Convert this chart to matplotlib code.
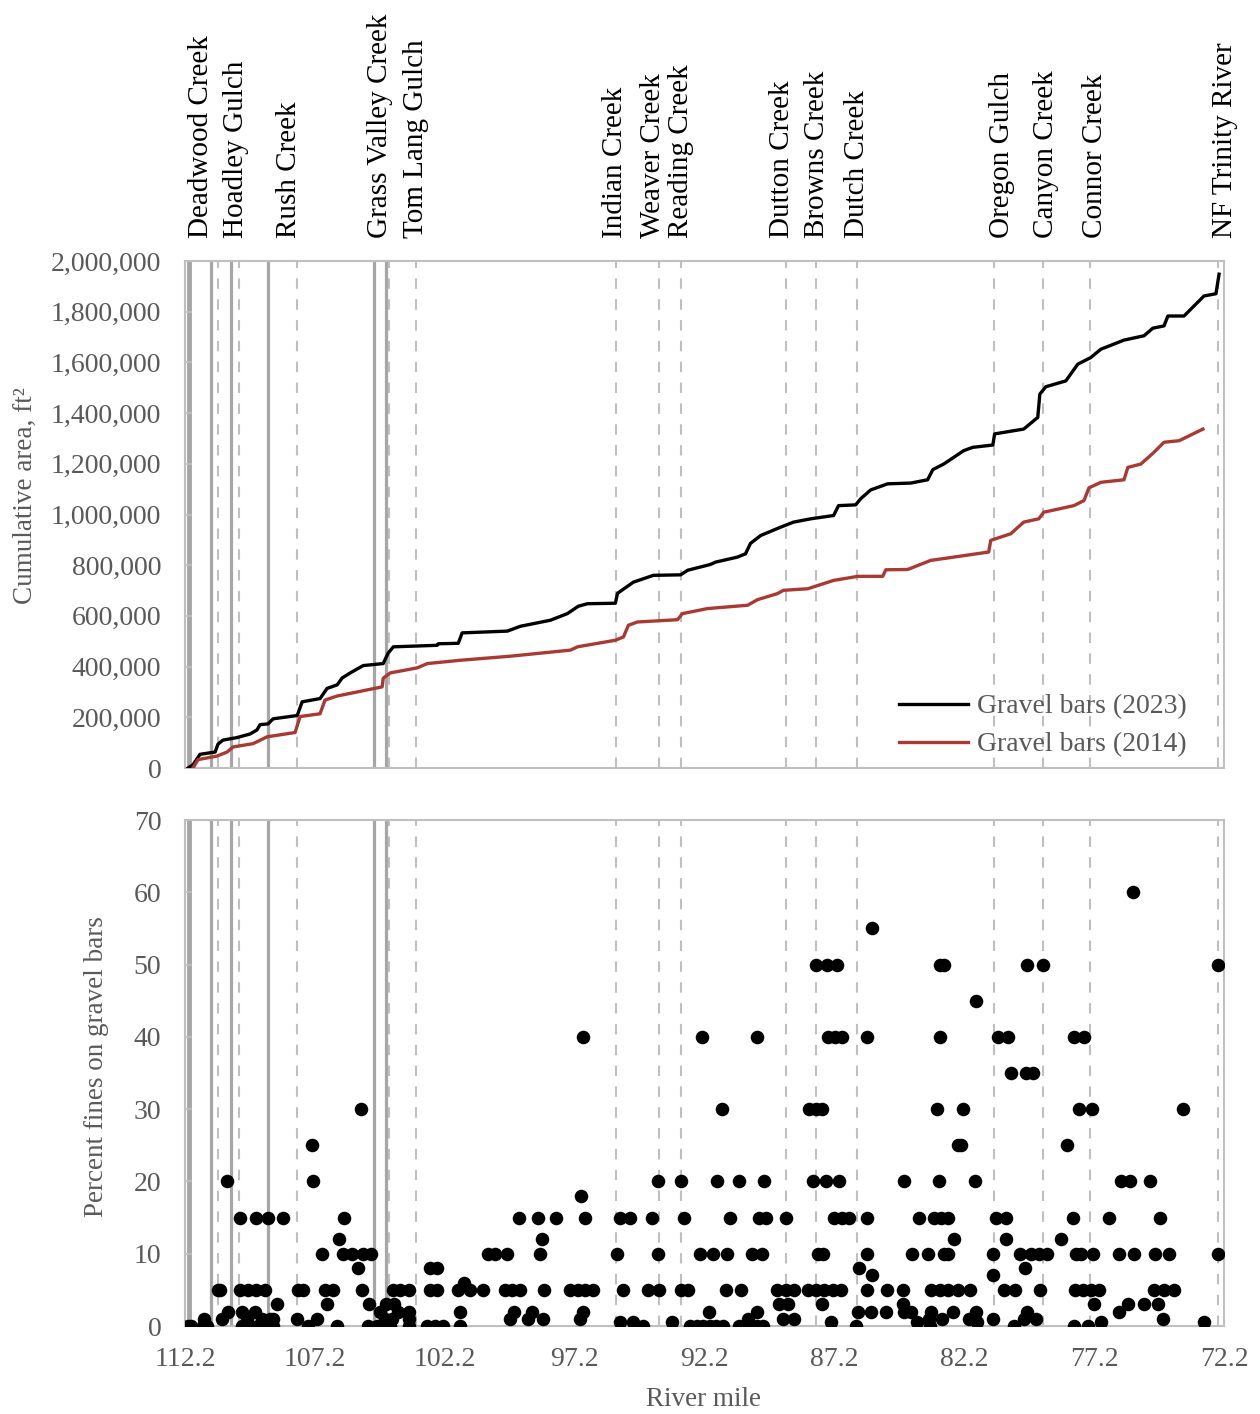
import matplotlib
matplotlib.use("Agg")
import matplotlib.pyplot as plt
import matplotlib.transforms as mtransforms

plt.rcParams['font.family'] = ['Liberation Serif', 'DejaVu Serif']

# ---------------- data ----------------
# tributaries (river mile of confluence) and label positions
trib_names = ["Deadwood Creek", "Hoadley Gulch", "Rush Creek", "Grass Valley Creek",
              "Tom Lang Gulch", "Indian Creek", "Weaver Creek", "Reading Creek",
              "Dutton Creek", "Browns Creek", "Dutch Creek", "Oregon Gulch",
              "Canyon Creek", "Connor Creek", "NF Trinity River"]
trib_miles = [110.94, 110.12, 107.88, 104.35, 103.31, 95.60, 93.97, 93.09,
              89.08, 87.90, 86.34, 81.05, 79.16, 77.35, 72.44]
trib_label_miles = [111.58, 110.23, 108.19, 104.69, 103.30, 95.63, 94.20, 93.09,
                    89.23, 87.88, 86.34, 80.76, 79.06, 77.17, 72.16]
# solid reference lines (river miles)
solid_miles = [112.03, 111.20, 110.43, 109.00, 104.92, 104.45]

# cumulative gravel bar area, 2023
area23_mile = [112.08, 111.89, 111.62, 111.04, 110.93, 110.74, 110.20, 109.70, 109.43,
               109.31, 109.00, 108.81, 107.88, 107.69, 107.00, 106.73, 106.34, 106.15,
               105.84, 105.34, 104.57, 104.38, 104.18, 102.49, 102.45, 101.68, 101.53,
               99.79, 99.29, 98.13, 97.48, 97.06, 96.71, 95.63, 95.55, 94.94, 94.17,
               93.12, 92.85, 91.97, 91.78, 90.93, 90.62, 90.43, 90.04, 89.27, 88.77,
               88.11, 87.23, 87.04, 86.38, 86.19, 85.80, 85.15, 84.26, 83.61, 83.41,
               82.99, 82.22, 81.87, 81.10, 81.03, 79.91, 79.37, 79.29, 79.06, 78.29,
               77.83, 77.33, 76.94, 76.05, 75.28, 74.94, 74.51, 74.36, 73.74, 72.97,
               72.51, 72.39]
area23 = [0, 13000, 54000, 63000, 94000, 110000, 120000, 134000, 150000,
          171000, 174000, 194000, 207000, 261000, 274000, 314000, 328000, 355000,
          375000, 404000, 412000, 453000, 478000, 484000, 490000, 492000, 533000,
          540000, 559000, 583000, 609000, 638000, 648000, 650000, 689000, 733000, 760000,
          762000, 780000, 803000, 812000, 832000, 845000, 886000, 917000, 950000, 970000,
          983000, 996000, 1035000, 1038000, 1062000, 1097000, 1121000, 1124000, 1137000, 1177000,
          1199000, 1252000, 1265000, 1274000, 1318000, 1337000, 1383000, 1475000, 1504000, 1527000,
          1593000, 1619000, 1652000, 1688000, 1705000, 1735000, 1744000, 1783000, 1783000, 1862000,
          1871000, 1948000]

# cumulative gravel bar area, 2014
area14_mile = [111.89, 111.70, 110.97, 110.58, 110.35, 109.58, 109.04, 107.96, 107.77,
               107.00, 106.81, 106.34, 105.19, 104.61, 104.57, 104.30, 103.26, 102.87,
               101.60, 99.68, 97.36, 97.09, 95.63, 95.32, 95.13, 94.78, 93.24, 93.05,
               92.08, 90.54, 90.16, 89.39, 89.16, 88.23, 87.23, 86.30, 85.34, 85.22,
               84.38, 83.49, 82.60, 81.26, 81.18, 80.41, 79.91, 79.33, 79.14, 77.98,
               77.59, 77.40, 76.94, 76.05, 75.90, 75.40, 74.90, 74.51, 73.93, 73.01]
area14 = [0, 33000, 47000, 63000, 83000, 96000, 123000, 140000, 203000,
          214000, 268000, 284000, 308000, 320000, 354000, 375000, 395000, 412000,
          425000, 441000, 465000, 478000, 504000, 517000, 563000, 576000, 585000, 609000,
          629000, 642000, 664000, 688000, 701000, 707000, 740000, 756000, 756000, 782000,
          783000, 819000, 832000, 852000, 898000, 924000, 970000, 983000, 1009000, 1035000,
          1055000, 1105000, 1127000, 1137000, 1186000, 1199000, 1245000, 1285000, 1291000, 1337000]

# percent fines on gravel bars
fines_mile = [
    112.07, 111.95, 111.51, 111.35, 111.47, 110.93, 110.85, 110.79, 110.53, 110.59,
    110.08, 110.08, 109.77, 109.46, 109.12, 110.02, 109.50, 110.00, 109.70, 109.39,
    109.08, 109.81, 109.23, 108.81, 109.46, 109.01, 108.41, 108.92, 108.80, 108.67,
    107.90, 107.85, 107.65, 107.45, 107.32, 107.28, 107.12, 106.93, 106.80, 106.50,
    106.74, 106.35, 106.29, 106.07, 106.11, 105.76, 105.54, 105.37, 105.42, 105.34,
    105.03, 105.11, 105.14, 104.81, 104.69, 104.45, 104.15, 104.50, 104.30, 104.61,
    104.00, 104.22, 104.18, 103.91, 103.56, 103.59, 103.59, 103.59, 102.76, 102.49,
    102.87, 102.57, 102.26, 102.76, 102.49, 101.68, 101.22, 101.45, 101.60, 101.60,
    100.74, 100.52, 100.25, 99.80, 99.87, 99.60, 99.29, 99.36, 99.68, 99.52,
    98.98, 98.83, 98.41, 98.60, 97.91, 96.79, 98.47, 98.52, 98.37, 97.36,
    97.06, 96.79, 96.48, 96.86, 96.98, 96.86, 96.94,
    95.57, 95.44, 95.05, 95.35, 95.44, 94.94, 94.55, 94.22, 94.36, 93.97,
    93.98, 94.00, 93.44, 93.12, 92.85, 93.09, 93.00, 92.74, 92.47, 92.24,
    91.97, 91.74, 91.47, 90.89, 90.62, 90.16, 89.93, 90.51, 90.17, 92.04,
    92.38, 91.86, 91.33, 92.29, 91.52, 91.72, 91.36, 90.81, 91.20, 90.88,
    90.39, 89.98, 90.17, 90.12, 89.85, 89.92, 89.39, 89.08, 88.77, 89.35,
    88.97, 89.19, 88.77, 89.05, 88.23, 87.92, 87.61, 87.27, 86.96, 88.19,
    87.92, 87.69, 88.01, 87.53, 87.03, 87.83, 87.64, 87.67, 87.92, 87.47,
    87.11, 87.43, 87.16, 86.92, 87.34, 87.23, 86.92, 86.65, 85.96, 86.38,
    86.30, 85.80, 85.22, 86.25, 85.93, 85.93, 85.17, 85.74, 85.93, 85.74,
    84.56, 84.56, 84.52, 84.26, 84.52, 84.23, 84.00, 83.94, 83.59, 83.52,
    83.56, 83.49, 83.49, 83.14, 82.81, 82.45, 83.38, 83.11, 82.84, 83.17,
    83.04, 82.99, 82.84, 83.14, 82.99, 83.24, 83.14, 82.62, 82.59, 82.45,
    82.33, 82.23, 82.01, 81.98, 81.69, 81.76, 81.79, 81.75, 81.09, 81.09,
    81.09, 80.99, 80.60, 80.60, 80.91, 80.52, 80.41, 80.68, 80.25, 80.28,
    80.06, 79.87, 79.90, 79.77, 79.42, 79.64, 79.33, 79.02, 79.83, 79.56,
    79.80, 79.16, 79.29, 78.48, 78.00, 77.98, 77.44, 77.94, 77.63, 77.33,
    77.02, 77.90, 77.71, 77.26, 77.20, 78.25, 77.98, 77.59, 77.80, 77.30,
    76.94, 76.62, 76.26, 75.91, 76.23, 76.17, 75.82, 75.66, 75.72, 75.28,
    74.74, 75.04, 74.86, 74.33, 74.90, 74.51, 74.13, 74.68, 74.53, 73.79,
    72.96, 72.44, 72.44]
fines_pct = [
    0, 0, 0, 0, 1, 5, 5, 1, 2, 20,
    15, 5, 5, 5, 5, 2, 2, 0, 0, 0,
    0, 1, 1, 1, 15, 15, 15, 1, 0, 3,
    1, 5, 5, 0, 25, 20, 1, 10, 5, 5,
    3, 0, 12, 15, 10, 10, 8, 5, 30, 10,
    10, 3, 0, 0, 2, 3, 3, 1, 0, 0,
    2, 1, 5, 5, 5, 0, 1, 2, 8, 8,
    0, 0, 0, 5, 5, 5, 5, 6, 2, 0,
    5, 10, 10, 10, 5, 5, 5, 15, 1, 2,
    1, 2, 1, 15, 15, 15, 12, 10, 5, 5,
    5, 5, 5, 2, 1, 40, 18,
    10, 15, 15, 5, 0.5, 0.5, 0, 15, 5, 5,
    10, 20, 0.5, 5, 5, 20, 15, 0, 0, 0,
    0, 0, 0, 0, 0, 0, 0, 1, 2, 2,
    10, 10, 10, 40, 30, 20, 5, 5, 15, 20,
    10, 10, 40, 15, 15, 20, 5, 5, 5, 3,
    3, 1, 1, 15, 5, 5, 5, 5, 5, 30,
    30, 30, 20, 20, 20, 10, 10, 3, 50, 50,
    50, 40, 40, 40, 0.5, 15, 15, 15, 15, 0,
    2, 2, 2, 8, 10, 5, 5, 7, 40, 55,
    5, 3, 2, 2, 20, 10, 0.5, 15, 10, 0,
    1, 2, 5, 5, 5, 5, 15, 15, 15, 20,
    1, 10, 10, 50, 50, 30, 40, 2, 12, 25,
    25, 30, 1, 5, 0.5, 2, 20, 45, 10, 7,
    1, 15, 15, 12, 40, 40, 35, 5, 5, 0,
    10, 8, 1, 2, 1, 10, 10, 10, 35, 35,
    50, 50, 5, 12, 15, 0, 0, 5, 5, 5,
    5, 10, 10, 10, 3, 25, 40, 40, 30, 30,
    0.5, 15, 2, 3, 10, 20, 20, 10, 60, 3,
    3, 20, 10, 10, 5, 5, 5, 15, 1, 30,
    0.5, 10, 50]

x_ticks = [112.2, 107.2, 102.2, 97.2, 92.2, 87.2, 82.2, 77.2, 72.2]
x_ticklabels = ["112.2", "107.2", "102.2", "97.2", "92.2", "87.2", "82.2", "77.2", "72.2"]
area_ticks = list(range(0, 2000001, 200000))
fines_ticks = list(range(0, 71, 10))

# ---------------- figure ----------------
W, H = 1260, 1414
fig = plt.figure(figsize=(W / 100, H / 100), dpi=100)

def ax_rect(left, top, right, bottom):
    return [left / W, 1 - bottom / H, (right - left) / W, (bottom - top) / H]

ax1 = fig.add_axes(ax_rect(185, 261, 1224, 768))
ax2 = fig.add_axes(ax_rect(185, 820, 1224, 1326))

GRAY_TXT = '#595959'
SPINE = '#BFBFBF'
RED = '#A83A33'

for ax in (ax1, ax2):
    ax.set_xlim(112.2, 72.2)
    for s in ax.spines.values():
        s.set_color(SPINE)
        s.set_linewidth(1.5)
    for m in solid_miles:
        lw = 3.5 if m == solid_miles[0] else 2.3
        ax.axvline(m, color='#A6A6A6', lw=lw, zorder=1)
    for m in trib_miles:
        ax.axvline(m, color='#BFBFBF', lw=1.5, dashes=(5, 5), zorder=1)
    ax.set_xticks(x_ticks)
    ax.tick_params(axis='x', length=0, pad=15, labelsize=20, labelcolor=GRAY_TXT)
    ax.tick_params(axis='y', direction='in', length=5, width=1.2, color=SPINE,
                   pad=17, labelsize=20, labelcolor=GRAY_TXT)

# top panel
ax1.plot(area23_mile, area23, color='black', lw=2.4, zorder=3, label='Gravel bars (2023)')
ax1.plot(area14_mile, area14, color=RED, lw=2.4, zorder=3, label='Gravel bars (2014)')
ax1.set_ylim(0, 2000000)
ax1.set_yticks(area_ticks)
ax1.set_yticklabels([f"{v:,}" for v in area_ticks])
ax1.set_xticklabels([])
leg = ax1.legend(loc='lower right', bbox_to_anchor=(0.98, -0.012), frameon=False,
                 fontsize=20, handlelength=2.5, handletextpad=0.3, labelspacing=0.45,
                 borderaxespad=0.2)
for t in leg.get_texts():
    t.set_color(GRAY_TXT)

# tributary labels
trans = mtransforms.blended_transform_factory(ax1.transData, ax1.transAxes)
for name, m in zip(trib_names, trib_label_miles):
    ax1.text(m, 1 + 23 / 507, name, rotation=90, ha='center', va='bottom',
             fontsize=21, color='black', transform=trans)

# bottom panel
ax2.scatter(fines_mile, fines_pct, s=95, color='black', zorder=3, linewidths=0)
ax2.set_ylim(0, 70)
ax2.set_yticks(fines_ticks)
ax2.set_xticklabels(x_ticklabels)

fig.text(25 / W, 1 - 496 / H, "Cumulative area, ft²", rotation=90, ha='center', va='center',
         fontsize=19.5, color=GRAY_TXT)
fig.text(97 / W, 1 - 1067 / H, "Percent fines on gravel bars", rotation=90, ha='center',
         va='center', fontsize=19.5, color=GRAY_TXT)
fig.text(704 / W, 1 - 1399 / H, "River mile", ha='center', va='center',
         fontsize=19.5, color=GRAY_TXT)

fig.savefig("out.png", dpi=100)
